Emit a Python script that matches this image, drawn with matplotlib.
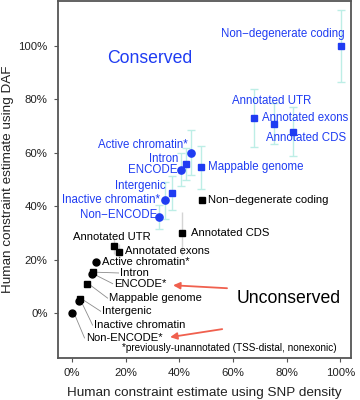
import matplotlib
matplotlib.use('Agg')
import matplotlib.pyplot as plt

plt.rcParams['font.family'] = ['Liberation Sans', 'DejaVu Sans']

# datos: puntos azules (conservados)
azul_nombres = ['Non\u2212degenerate coding', 'Annotated UTR', 'Annotated exons', 'Annotated CDS',
                'Mappable genome', 'Active chromatin*', 'Intron', 'ENCODE',
                'Intergenic', 'Inactive chromatin*', 'Non\u2212ENCODE']
azul_x = [100.4, 68.0, 75.4, 82.5, 48.0, 44.4, 42.5, 40.7, 37.3, 34.7, 32.5]
azul_y = [100.0, 73.0, 70.9, 67.9, 54.5, 60.0, 55.6, 53.7, 44.8, 42.2, 35.8]
azul_err = [13.4, 10.7, 7.6, 9.0, 8.0, 8.5, 6.0, 6.0, 6.4, 7.0, 4.5]
azul_forma = ['s', 's', 's', 's', 's', 'o', 's', 'o', 's', 'o', 'o']

# datos: puntos negros (no conservados)
negro_nombres = ['Non\u2212degenerate coding', 'Annotated CDS', 'Annotated UTR', 'Annotated exons',
                 'Active chromatin*', 'Intron', 'ENCODE*', 'Mappable genome',
                 'Intergenic', 'Inactive chromatin', 'Non-ENCODE*']
negro_x = [48.5, 41.0, 15.7, 17.5, 9.0, 7.8, 7.5, 5.6, 3.0, 2.6, 0.0]
negro_y = [42.2, 29.8, 25.0, 22.8, 19.0, 15.3, 14.5, 10.8, 5.2, 4.5, 0.0]
negro_err = [0.0, 8.0, 3.0, 3.0, 0.0, 0.0, 0.0, 0.0, 0.0, 0.0, 0.0]
negro_forma = ['s', 's', 's', 's', 'o', 's', 'o', 's', 's', 'o', 'o']

ticks = [0, 20, 40, 60, 80, 100]
tick_texto = ['0%', '20%', '40%', '60%', '80%', '100%']

azul = '#1f3cf2'
cian = '#bdeee6'

fig = plt.figure(figsize=(3.6, 4.0), dpi=100)
ax = fig.add_axes([0.161, 0.105, 0.814, 0.893])

# barras de error
ax.errorbar(azul_x, azul_y, yerr=azul_err, fmt='none', ecolor=cian, elinewidth=1.0, capsize=3, capthick=1.0, zorder=1)
ax.errorbar(negro_x, negro_y, yerr=negro_err, fmt='none', ecolor='#d4d4d4', elinewidth=1.0, capsize=0, zorder=1)

for x, y, m in zip(azul_x, azul_y, azul_forma):
    ax.plot(x, y, marker=m, color=azul, markersize=4.6 if m == 's' else 5.2, linestyle='none', zorder=3)
for x, y, m in zip(negro_x, negro_y, negro_forma):
    ax.plot(x, y, marker=m, color='black', markersize=4.2 if m == 's' else 5.0, linestyle='none', zorder=3)

# etiquetas azules
pos_azul = [(101.5, 104.5, 'right'), (59.7, 79.5, 'left'), (70.9, 73.1, 'left'), (72.4, 65.3, 'left'),
            (50.7, 54.5, 'left'), (43.3, 62.7, 'right'), (39.6, 57.8, 'right'), (39.2, 53.4, 'right'),
            (35.1, 47.4, 'right'), (32.8, 42.2, 'right'), (31.7, 36.6, 'right')]
for nombre, (tx, ty, ha) in zip(azul_nombres, pos_azul):
    ax.text(tx, ty, nombre, color=azul, fontsize=8.3, ha=ha, va='center', zorder=4)

# etiquetas negras
pos_negro = [(50.7, 42.2), (44.4, 29.9), (0.4, 28.4), (19.8, 23.1), (11.2, 19.1), (17.9, 15.0),
             (15.7, 11.0), (13.8, 5.6), (11.2, 0.7), (8.2, -4.5), (5.2, -9.3)]
for nombre, (tx, ty) in zip(negro_nombres, pos_negro):
    ax.text(tx, ty, nombre, color='black', fontsize=8.1, ha='left', va='center', zorder=4)

# lineas guia de las etiquetas negras
for i in range(5, 11):
    tx, ty = pos_negro[i]
    ax.plot([negro_x[i] + 0.8, tx - 0.5], [negro_y[i], ty], color='#8c8c8c', linewidth=0.6, zorder=2)

ax.text(13.1, 95.1, 'Conserved', color=azul, fontsize=12.7, ha='left', va='center')
ax.text(61.2, 5.6, 'Unconserved', color='black', fontsize=12.7, ha='left', va='center')
ax.text(18.7, -13.1, '*previously-unannotated (TSS-distal, nonexonic)', fontsize=7.2, ha='left', va='center')

# flechas rojas
ax.annotate('', xy=(37.7, 10.4), xytext=(57.8, 9.3),
            arrowprops=dict(arrowstyle='-|>', color='#f0604e', lw=1.3, mutation_scale=10, shrinkA=0, shrinkB=0))
ax.annotate('', xy=(36.6, -9.0), xytext=(56.0, -6.0),
            arrowprops=dict(arrowstyle='-|>', color='#f0604e', lw=1.3, mutation_scale=10, shrinkA=0, shrinkB=0))

ax.set_xlim(-5.2, 104)
ax.set_ylim(-16.8, 116.8)
ax.set_xticks(ticks)
ax.set_xticklabels(tick_texto)
ax.set_yticks(ticks)
ax.set_yticklabels(tick_texto)
ax.tick_params(labelsize=8.2, length=3, pad=4.5, color='#555555', labelcolor='#222222')
for s in ax.spines.values():
    s.set_color('#555555')
    s.set_linewidth(1.3)

ax.set_xlabel('Human constraint estimate using SNP density', fontsize=9.7, color='#222222', labelpad=6)
ax.set_ylabel('Human constraint estimate using DAF', fontsize=9.7, color='#222222', labelpad=3)

plt.savefig('out.png', dpi=100)
plt.close()
